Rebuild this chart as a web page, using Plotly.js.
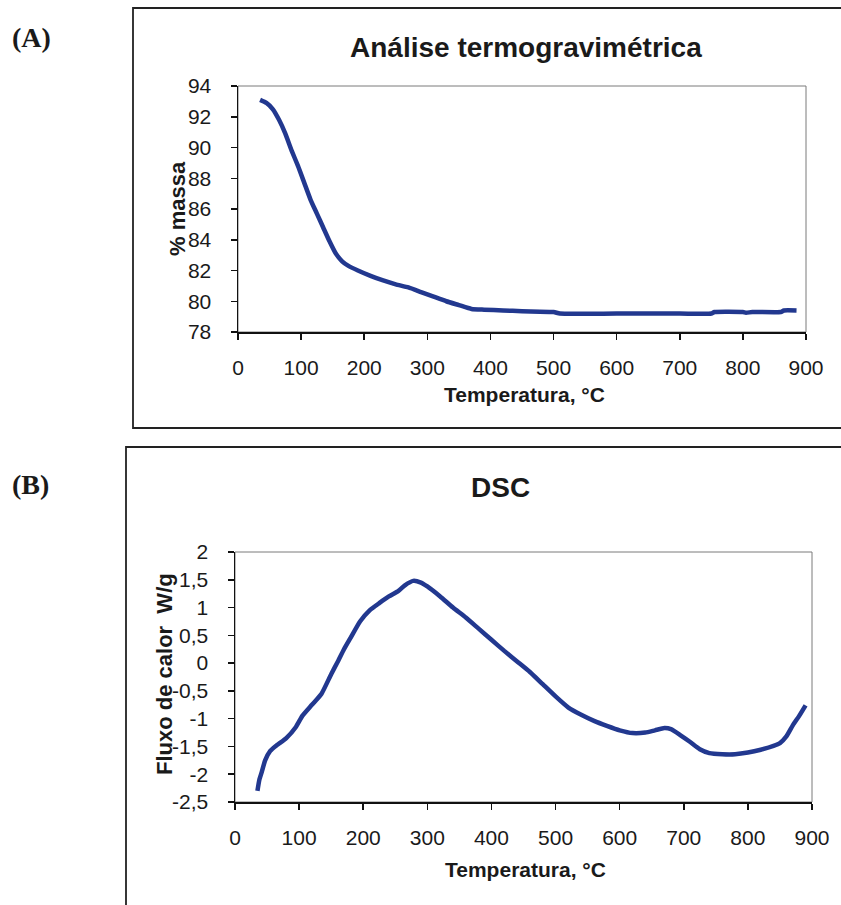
<!DOCTYPE html>
<html>
<head>
<meta charset="utf-8">
<script src="https://cdn.plot.ly/plotly-3.0.1.min.js"></script>
<style>
  html, body { margin: 0; padding: 0; background: #ffffff; }
  #chart { width: 841px; height: 905px; }
</style>
</head>
<body>
<div id="chart"></div>
<script>
// Thermogravimetric analysis: temperature (°C) vs. remaining mass (%)
const tgaTemp = [35, 45, 55, 65, 75, 85, 95, 105, 115, 125, 135, 145, 155, 165, 175, 190,
  210, 230, 250, 270, 290, 310, 330, 350, 370, 390, 420, 450, 500, 510, 600, 700, 750,
  755, 800, 805, 815, 860, 865, 885];
const tgaMass = [93.1, 92.9, 92.5, 91.8, 90.9, 89.8, 88.8, 87.7, 86.6, 85.7, 84.8, 83.9,
  83.1, 82.6, 82.3, 82.0, 81.65, 81.35, 81.1, 80.9, 80.6, 80.3, 80.0, 79.75, 79.5, 79.45,
  79.4, 79.35, 79.3, 79.2, 79.2, 79.2, 79.2, 79.3, 79.3, 79.25, 79.3, 79.3, 79.4, 79.4];

// Differential scanning calorimetry: temperature (°C) vs. heat flow (W/g)
const dscTemp = [35, 38, 42, 47, 55, 65, 80, 95, 105, 120, 135, 150, 160, 170, 180, 195,
  210, 225, 240, 255, 265, 278, 290, 300, 320, 340, 360, 380, 400, 420, 440, 460, 480,
  500, 520, 540, 560, 580, 600, 620, 640, 655, 670, 680, 695, 710, 725, 740, 760, 780,
  800, 820, 840, 850, 860, 870, 880, 890];
const dscFlow = [-2.3, -2.1, -1.95, -1.75, -1.58, -1.48, -1.35, -1.15, -0.95, -0.75, -0.55,
  -0.2, 0.02, 0.25, 0.45, 0.75, 0.95, 1.08, 1.2, 1.3, 1.4, 1.48, 1.45, 1.38, 1.2, 1.0,
  0.82, 0.62, 0.42, 0.22, 0.03, -0.16, -0.38, -0.6, -0.8, -0.93, -1.04, -1.13, -1.21,
  -1.26, -1.25, -1.21, -1.17, -1.19, -1.3, -1.42, -1.55, -1.62, -1.64, -1.64, -1.61,
  -1.56, -1.49, -1.44, -1.32, -1.12, -0.95, -0.76];

// Axis ticks
const tempTicks = [0, 100, 200, 300, 400, 500, 600, 700, 800, 900];
const massTicks = [78, 80, 82, 84, 86, 88, 90, 92, 94];
const flowTicks = [-2.5, -2, -1.5, -1, -0.5, 0, 0.5, 1, 1.5, 2];
const flowTickText = ['-2,5', '-2', '-1,5', '-1', '-0,5', '0', '0,5', '1', '1,5', '2'];

// Text
const titleTga = 'Análise termogravimétrica';
const titleDsc = 'DSC';
const xTitle = 'Temperatura, °C';
const yTitleTga = '% massa';
const yTitleDsc = 'Fluxo de calor  W/g';
const panelA = '(A)';
const panelB = '(B)';

// Page geometry helpers (pixel -> paper fraction)
const W = 841, H = 905;
const px = v => v / W;
const py = v => 1 - v / H;

const SANS = 'Liberation Sans, Arial, sans-serif';
const SERIF = 'Liberation Serif, Times New Roman, serif';
const INK = '#1a1a1a';
const CURVE = '#22388f';

const tickFont = { family: SANS, size: 21, color: INK };

function xAxis(domain, anchor) {
  return {
    domain: domain, anchor: anchor, range: [0, 900], tickvals: tempTicks,
    ticks: 'outside', ticklen: 6, tickwidth: 1.5, tickcolor: '#111',
    showline: true, linecolor: '#111', linewidth: 1.5,
    showgrid: false, zeroline: false, tickfont: tickFont,
    ticklabelstandoff: 10, fixedrange: true
  };
}
function yAxis(domain, anchor, range, vals, text) {
  const ax = {
    domain: domain, anchor: anchor, range: range, tickvals: vals,
    ticks: 'outside', ticklen: 6, tickwidth: 1.5, tickcolor: '#111',
    showline: true, linecolor: '#111', linewidth: 1.5,
    showgrid: false, zeroline: false, tickfont: tickFont,
    ticklabelstandoff: 15, fixedrange: true
  };
  if (text) ax.ticktext = text;
  return ax;
}

const traces = [
  { x: tgaTemp, y: tgaMass, xaxis: 'x', yaxis: 'y', mode: 'lines',
    line: { color: CURVE, width: 4.5, shape: 'spline', smoothing: 0.5 }, hoverinfo: 'skip' },
  { x: dscTemp, y: dscFlow, xaxis: 'x2', yaxis: 'y2', mode: 'lines',
    line: { color: CURVE, width: 4.5, shape: 'spline', smoothing: 0.5 }, hoverinfo: 'skip' }
];

function ann(text, x, y, size, opts) {
  return Object.assign({
    text: text, x: px(x), y: py(y), xref: 'paper', yref: 'paper',
    showarrow: false, xanchor: 'center', yanchor: 'middle',
    font: { family: SANS, size: size, color: INK }
  }, opts || {});
}

const layout = {
  width: W, height: H,
  margin: { l: 0, r: 0, t: 0, b: 0 },
  paper_bgcolor: '#ffffff', plot_bgcolor: '#ffffff',
  showlegend: false,
  xaxis: xAxis([px(238), px(806)], 'y'),
  yaxis: yAxis([py(332), py(86)], 'x', [78, 94], massTicks),
  xaxis2: xAxis([px(235), px(812)], 'y2'),
  yaxis2: yAxis([py(802), py(552)], 'x2', [-2.5, 2], flowTicks, flowTickText),
  shapes: [
    // outer frames of the two panels
    { type: 'rect', xref: 'paper', yref: 'paper', x0: px(133), x1: 1.02, y0: py(428), y1: py(8),
      line: { color: '#222', width: 1.8 }, layer: 'below' },
    { type: 'rect', xref: 'paper', yref: 'paper', x0: px(126), x1: 1.02, y0: -0.05, y1: py(447),
      line: { color: '#222', width: 1.8 }, layer: 'below' },
    // plot-area borders
    { type: 'rect', xref: 'paper', yref: 'paper', x0: px(238), x1: px(806), y0: py(332), y1: py(86),
      line: { color: '#7a7a7a', width: 1 }, layer: 'below' },
    { type: 'rect', xref: 'paper', yref: 'paper', x0: px(235), x1: px(812), y0: py(802), y1: py(552),
      line: { color: '#7a7a7a', width: 1 }, layer: 'below' }
  ],
  annotations: [
    ann('<b>' + panelA + '</b>', 32, 38, 28, { font: { family: SERIF, size: 28, color: INK } }),
    ann('<b>' + panelB + '</b>', 31, 484, 28, { font: { family: SERIF, size: 28, color: INK } }),
    ann('<b>' + titleTga + '</b>', 526, 47, 28),
    ann('<b>' + titleDsc + '</b>', 500, 487, 28),
    ann('<b>' + xTitle + '</b>', 524, 394, 21),
    ann('<b>' + xTitle + '</b>', 525, 869, 21),
    ann('<b>' + yTitleTga + '</b>', 177, 209, 22, { textangle: -90 }),
    ann('<b>' + yTitleDsc + '</b>', 164, 674, 22, { textangle: -90 })
  ]
};

Plotly.newPlot('chart', traces, layout, { displayModeBar: false, staticPlot: true });
</script>
</body>
</html>
